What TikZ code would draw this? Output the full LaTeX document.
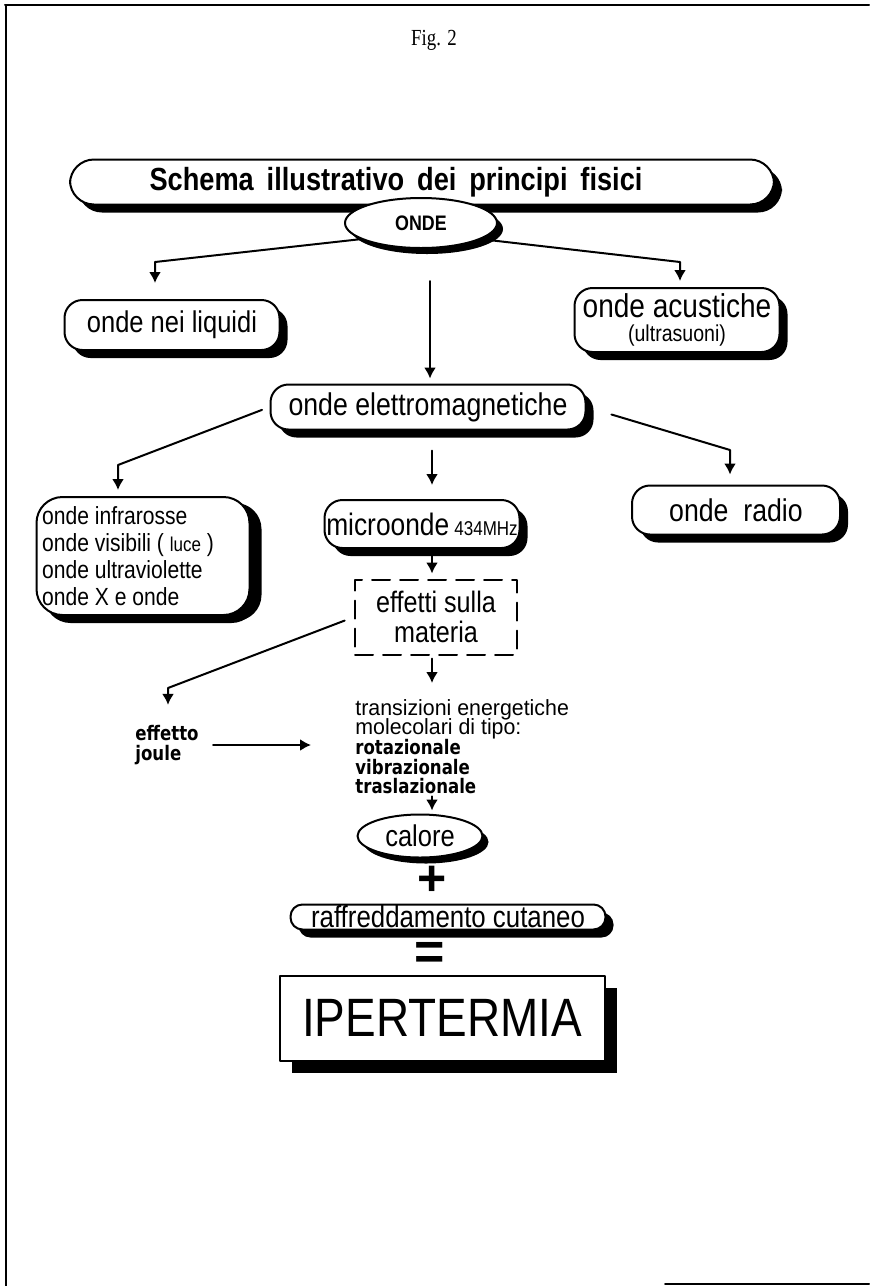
\documentclass[tikz,border=0pt]{standalone}
\usepackage{fontspec}
\setmainfont[FakeStretch=0.85]{Liberation Sans}
\newfontfamily\figfont[FakeStretch=0.82]{Liberation Serif}
\newfontfamily\boldvfont[FakeStretch=0.83]{DejaVu Sans}
\newfontfamily\transfont[FakeStretch=0.97]{Liberation Sans}
\newfontfamily\symfont{Liberation Sans}
\usetikzlibrary{shapes.geometric,shadows,arrows.meta}

\newcommand{\fs}[2]{\fontsize{#1}{#2}\selectfont}
\newcommand{\tight}{\lineskiplimit=-100pt\lineskip=0pt}

\begin{document}
\begin{tikzpicture}[x=0.5pt,y=-0.5pt,line cap=round,line join=round,>={Latex[length=5.5pt,width=6pt]},
  pill/.style={draw,line width=1pt,fill=white,rounded corners=9pt,align=center,inner sep=0pt,
    drop shadow={shadow xshift=4pt,shadow yshift=-4pt,fill=black,opacity=1}},
  oval/.style={draw,ellipse,line width=1pt,fill=white,inner sep=0pt,
    drop shadow={shadow xshift=3pt,shadow yshift=-3pt,fill=black,opacity=1}},
  link/.style={line width=1pt,->}]
  \useasboundingbox (0,0) rectangle (869,1286);
  % cornice
  \draw[line width=1pt] (5,5) -- (869,5);
  \draw[line width=1pt] (6,5) -- (6,1286);
  \draw[line width=1pt] (665,1284) -- (869,1284);
  \node[font=\figfont\fs{11.5}{14}] (fig) at (434,40) {Fig. 2};
  % nodi
  \node[pill,rounded corners=12pt,minimum width=352pt,minimum height=22.5pt,font=\bfseries\fs{16}{20}] (titolo) at (422,182) {Schema\, illustrativo\, dei\, principi\, fisici\hspace*{26pt}};
  \node[oval,minimum width=76pt,minimum height=25pt,font=\bfseries\fs{10.5}{12}] (onde) at (421,223) {ONDE};
  \node[pill,minimum width=107.5pt,minimum height=25pt,font=\fs{15}{18}] (liquidi) at (172,325) {onde nei liquidi};
  \node[pill,minimum width=102.5pt,minimum height=32pt] (acustiche) at (677,320) {\fs{16.5}{14}onde acustiche\\\fs{11.5}{13}(ultrasuoni)};
  \node[pill,minimum width=157.5pt,minimum height=22.5pt,font=\fs{15.7}{18}] (elettro) at (428,407) {onde elettromagnetiche};
  \node[pill,rounded corners=13pt,minimum width=106.5pt,minimum height=59pt,align=left,inner sep=1.5pt,
    drop shadow={shadow xshift=6pt,shadow yshift=-3pt,fill=black,opacity=1},font=\fs{12.4}{13.5}\tight] (infra) at (143,556)
    {onde infrarosse\\onde visibili ( {\fs{10}{13.5}luce} )\\onde ultraviolette\\onde X e onde\hspace*{2.6em}};
  \node[pill,minimum width=97.5pt,minimum height=24pt] (micro) at (422,524) {\fs{15.5}{20}microonde\,{\fs{10}{14}434MHz}};
  \node[pill,minimum width=104pt,minimum height=24.5pt,font=\fs{15.7}{18}] (radio) at (736,510) {onde\ \ radio};
  \node[draw,dash pattern=on 9pt off 5pt,line width=1pt,minimum width=81pt,minimum height=37.5pt,align=center,
    font=\fs{14.8}{15}\tight] (effetti) at (436,617) {effetti sulla\\materia};
  \node[anchor=north west,inner sep=0pt,align=left,font=\transfont\fs{11}{9.8}\tight] (trans) at (355,699)
    {transizioni energetiche\\molecolari di tipo:\\{\boldvfont\bfseries\fs{10}{9.8}rotazionale}\\{\boldvfont\bfseries\fs{10}{9.8}vibrazionale}\\{\boldvfont\bfseries\fs{10}{9.8}traslazionale}};
  \node[anchor=west,inner sep=0pt,align=left,font=\boldvfont\bfseries\fs{10}{10}\tight] (joule) at (135,745) {effetto\\joule};
  \node[oval,minimum width=62.5pt,minimum height=21.5pt,font=\fs{15}{18}] (calore) at (420,836) {calore};
  \node[inner sep=0pt,font=\symfont\bfseries\fs{25}{25}] (piu) at (432,881) {+};
  \node[pill,rounded corners=6pt,minimum width=157.5pt,minimum height=12.5pt,font=\fs{15.2}{18}] (raff) at (448,917) {raffreddamento cutaneo};
  \node[inner sep=0pt,font=\symfont\bfseries\fs{26}{26}] (uguale) at (430,956) {=};
  \node[draw,line width=1pt,fill=white,minimum width=162.5pt,minimum height=42.5pt,font=\fs{27}{30},
    drop shadow={shadow xshift=6pt,shadow yshift=-6pt,fill=black,opacity=1}] (ipert) at (442,1018) {IPERTERMIA};
  % collegamenti
  \coordinate (gomitoA) at (155,262);
  \coordinate (gomitoB) at (680,262);
  \coordinate (gomitoC) at (118,465);
  \coordinate (gomitoD) at (730,450);
  \coordinate (gomitoE) at (168,688);
  \coordinate (asseA) at (430,0);
  \coordinate (asseB) at (432,0);
  \draw[link,shorten >=8pt] (onde.195) -- (gomitoA) -- (gomitoA |- liquidi.north);
  \draw[link,shorten >=3pt] (onde.-15) -- (gomitoB) -- (gomitoB |- acustiche.north);
  \draw[link,shorten <=16pt,shorten >=2.5pt] (onde.south -| asseA) -- (elettro.north -| asseA);
  \draw[link,shorten <=4pt,shorten >=3pt] (elettro.west) -- (gomitoC) -- (gomitoC |- infra.north);
  \draw[link,shorten <=13pt,shorten >=5pt] (elettro.east) -- (gomitoD) -- (gomitoD |- radio.north);
  \draw[link,shorten <=10pt,shorten >=7pt] (elettro.south -| asseB) -- (micro.north -| asseB);
  \draw[link,shorten <=3pt,shorten >=2.5pt] (micro.south -| asseB) -- (effetti.north -| asseB);
  \draw[link,shorten <=1.5pt,shorten >=8pt] (effetti.south -| asseB) -- (trans.north -| asseB);
  \draw[link,shorten <=5pt,shorten >=10pt] (effetti.west) -- (gomitoE) -- (gomitoE |- joule.north);
  \draw[link,shorten <=7pt,shorten >=22pt] (joule.east) -- (joule.east -| trans.west);
  \draw[link,shorten <=1pt,shorten >=1.5pt] (trans.south -| asseB) -- (calore.north -| asseB);
\end{tikzpicture}
\end{document}
